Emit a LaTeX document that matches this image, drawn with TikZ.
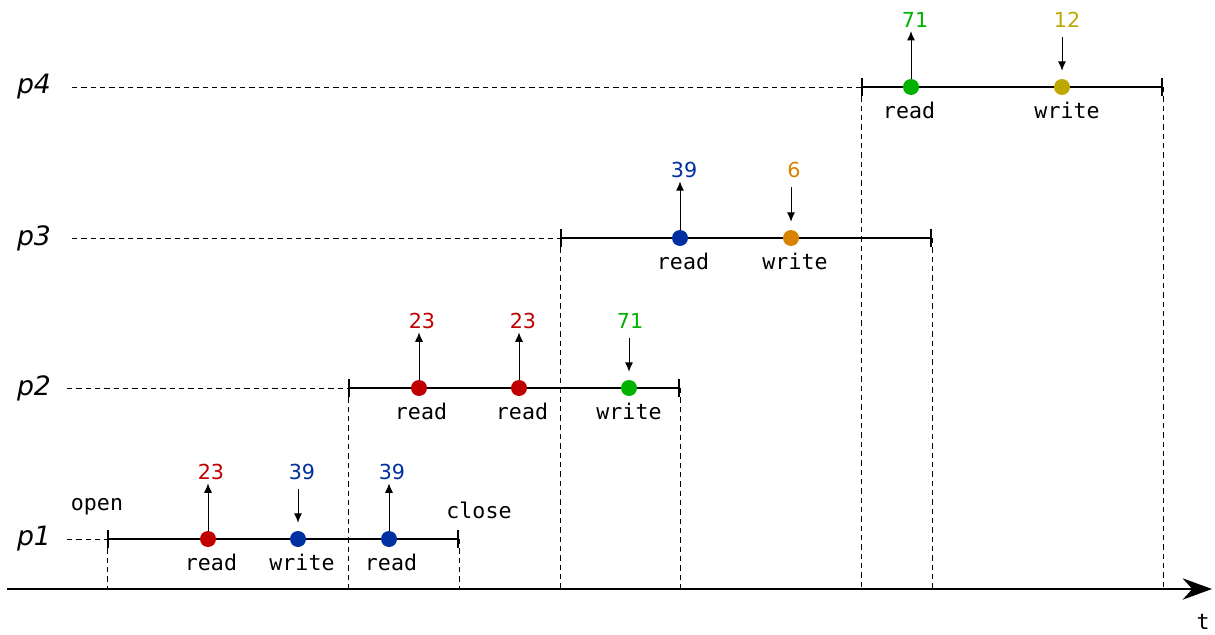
\documentclass[tikz,border=0pt]{standalone}
\usepackage{fontspec}
\setmainfont{DejaVu Sans}
\setmonofont{DejaVu Sans Mono}
\usetikzlibrary{arrows.meta}
\definecolor{rd}{RGB}{192,0,0}
\definecolor{bl}{RGB}{0,48,160}
\definecolor{gn}{RGB}{0,178,0}
\definecolor{og}{RGB}{215,130,0}
\definecolor{ol}{RGB}{190,168,0}

\begin{document}
\begin{tikzpicture}[x=0.75pt,y=-0.75pt,
  dot/.style={circle, minimum size=12pt, inner sep=0pt},
  num/.style={inner sep=0pt, font=\fontsize{15.5}{18}\selectfont},
  op/.style={inner sep=0pt, font=\ttfamily\fontsize{16.2}{19}\selectfont},
  proc/.style={inner sep=0pt, font=\fontsize{20}{24}\selectfont\itshape},
  lane/.style={line width=1.5pt, {Bar[width=14pt]}-{Bar[width=14pt]}},
  lead/.style={line width=0.6pt, dash pattern=on 4pt off 3pt},
  get/.style={line width=0.75pt, -{Latex[length=7pt,width=6pt]}, shorten >=2.5pt},
  put/.style={line width=0.75pt, -{Latex[length=7pt,width=6pt]}, shorten <=7pt, shorten >=6pt}]
\useasboundingbox (0,0) rectangle (1215,635);

% time axis
\coordinate (o) at (7,589);
\coordinate (tend) at (1212,589);
\draw[line width=1.5pt, -{Stealth[length=22pt,width=16pt]}] (o) -- (tend);
\node[op] (t) at (1203,622) {t};

% lanes
\coordinate (s1) at (107,539);
\coordinate (e1) at (459,539);
\coordinate (s2) at (348,388);
\coordinate (e2) at (680,388);
\coordinate (s3) at (560,238);
\coordinate (e3) at (932,238);
\coordinate (s4) at (861,87);
\coordinate (e4) at (1163,87);

\node[proc] (p1) at (34,539) {p1};
\node[proc] (p2) at (34,388) {p2};
\node[proc] (p3) at (34,238) {p3};
\node[proc] (p4) at (34,87) {p4};

\coordinate (l1) at (67,539);
\coordinate (l2) at (67,388);
\coordinate (l3) at (72,238);
\coordinate (l4) at (72,87);

\draw[lead] (l1) -- (s1);
\draw[lead] (l2) -- (s2);
\draw[lead] (l3) -- (s3);
\draw[lead] (l4) -- (s4);

\draw[lead] (s1) -- (s1 |- o);
\draw[lead] (e1) -- (e1 |- o);
\draw[lead] (s2) -- (s2 |- o);
\draw[lead] (e2) -- (e2 |- o);
\draw[lead] (s3) -- (s3 |- o);
\draw[lead] (e3) -- (e3 |- o);
\draw[lead] (s4) -- (s4 |- o);
\draw[lead] (e4) -- (e4 |- o);

\draw[lane] (s1) -- (e1);
\draw[lane] (s2) -- (e2);
\draw[lane] (s3) -- (e3);
\draw[lane] (s4) -- (e4);

\node[op] (open) at (97,507) {open};
\node[op] (close) at (479,510) {close};

% p1
\node[dot, fill=rd] (r11) at (208,539) {};
\node[num, text=rd] (n11) at (211,472) {23};
\node[op] (o11) at (211,562) {read};
\draw[get] (r11.north) -- (n11.south -| r11);
\node[dot, fill=bl] (w12) at (298,539) {};
\node[num, text=bl] (n12) at (302,472) {39};
\node[op] (o12) at (302,562) {write};
\draw[put] (n12.south -| w12) -- (w12.north);
\node[dot, fill=bl] (r13) at (389,539) {};
\node[num, text=bl] (n13) at (392,472) {39};
\node[op] (o13) at (391,562) {read};
\draw[get] (r13.north) -- (n13.south -| r13);

% p2
\node[dot, fill=rd] (r21) at (419,388) {};
\node[num, text=rd] (n21) at (422,321) {23};
\node[op] (o21) at (421,411) {read};
\draw[get] (r21.north) -- (n21.south -| r21);
\node[dot, fill=rd] (r22) at (519,388) {};
\node[num, text=rd] (n22) at (523,321) {23};
\node[op] (o22) at (522,411) {read};
\draw[get] (r22.north) -- (n22.south -| r22);
\node[dot, fill=gn] (w23) at (629,388) {};
\node[num, text=gn] (n23) at (630,321) {71};
\node[op] (o23) at (629,411) {write};
\draw[put] (n23.south -| w23) -- (w23.north);

% p3
\node[dot, fill=bl] (r31) at (680,238) {};
\node[num, text=bl] (n31) at (684,170) {39};
\node[op] (o31) at (683,261) {read};
\draw[get] (r31.north) -- (n31.south -| r31);
\node[dot, fill=og] (w32) at (791,238) {};
\node[num, text=og] (n32) at (794,170) {6};
\node[op] (o32) at (795,261) {write};
\draw[put] (n32.south -| w32) -- (w32.north);

% p4
\node[dot, fill=gn] (r41) at (911,87) {};
\node[num, text=gn] (n41) at (915,20) {71};
\node[op] (o41) at (909,110) {read};
\draw[get] (r41.north) -- (n41.south -| r41);
\node[dot, fill=ol] (w42) at (1062,87) {};
\node[num, text=ol] (n42) at (1067,20) {12};
\node[op] (o42) at (1067,110) {write};
\draw[put] (n42.south -| w42) -- (w42.north);
\end{tikzpicture}
\end{document}
